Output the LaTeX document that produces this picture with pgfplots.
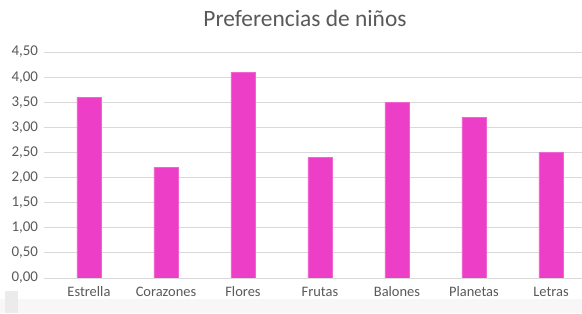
\documentclass[border=0pt]{standalone}
\usepackage{pgfplots}
\pgfplotsset{compat=1.18}
\usepackage{fontspec}
\setmainfont{Carlito}
\definecolor{barc}{RGB}{236,62,198}
\definecolor{txt}{RGB}{89,89,89}
\definecolor{grd}{RGB}{217,217,217}
\begin{document}
\begin{tikzpicture}[x=1bp,y=1bp]
\path[use as bounding box] (0,0) rectangle (582,313);
\fill[black!3] (0,0) rectangle (582,14);
\fill[black!8] (5,0) rectangle (18,22);
\begin{axis}[
  at={(44bp,35bp)}, anchor=south west,
  scale only axis, width=538bp, height=226bp,
  xmin=-0.584, xmax=6.403, ymin=0, ymax=4.5,
  ytick={0,0.5,...,4.5},
  xtick={0,...,6},
  xticklabels={Estrella,Corazones,Flores,Frutas,Balones,Planetas,Letras},
  ymajorgrids, grid style={grd, line width=0.8pt},
  axis line style={draw=none},
  major tick length=0pt,
  tick label style={text=txt},
  yticklabel style={font=\fontsize{15}{17}\selectfont, xshift=-2.5bp},
  xticklabel style={font=\fontsize{14.5}{17}\selectfont, yshift=-5bp, text height=10bp, text depth=3bp},
  /pgf/number format/.cd, fixed, fixed zerofill, precision=2, use comma, assume math mode=true,
  /pgfplots/.cd,
  clip=false,
]
\addplot[ybar, bar width=24bp, fill=barc, draw=barc!80!white] coordinates {
  (0,3.6) (1,2.2) (2,4.1) (3,2.4) (4,3.5) (5,3.2) (6,2.5)
};
\draw[grd, line width=0.8pt] (axis cs:-0.584,0) -- (axis cs:6.403,0);
\end{axis}
\node[font=\fontsize{23.5}{26}\selectfont, text=txt] at (305bp,295bp) {Preferencias de niños};
\end{tikzpicture}
\end{document}
